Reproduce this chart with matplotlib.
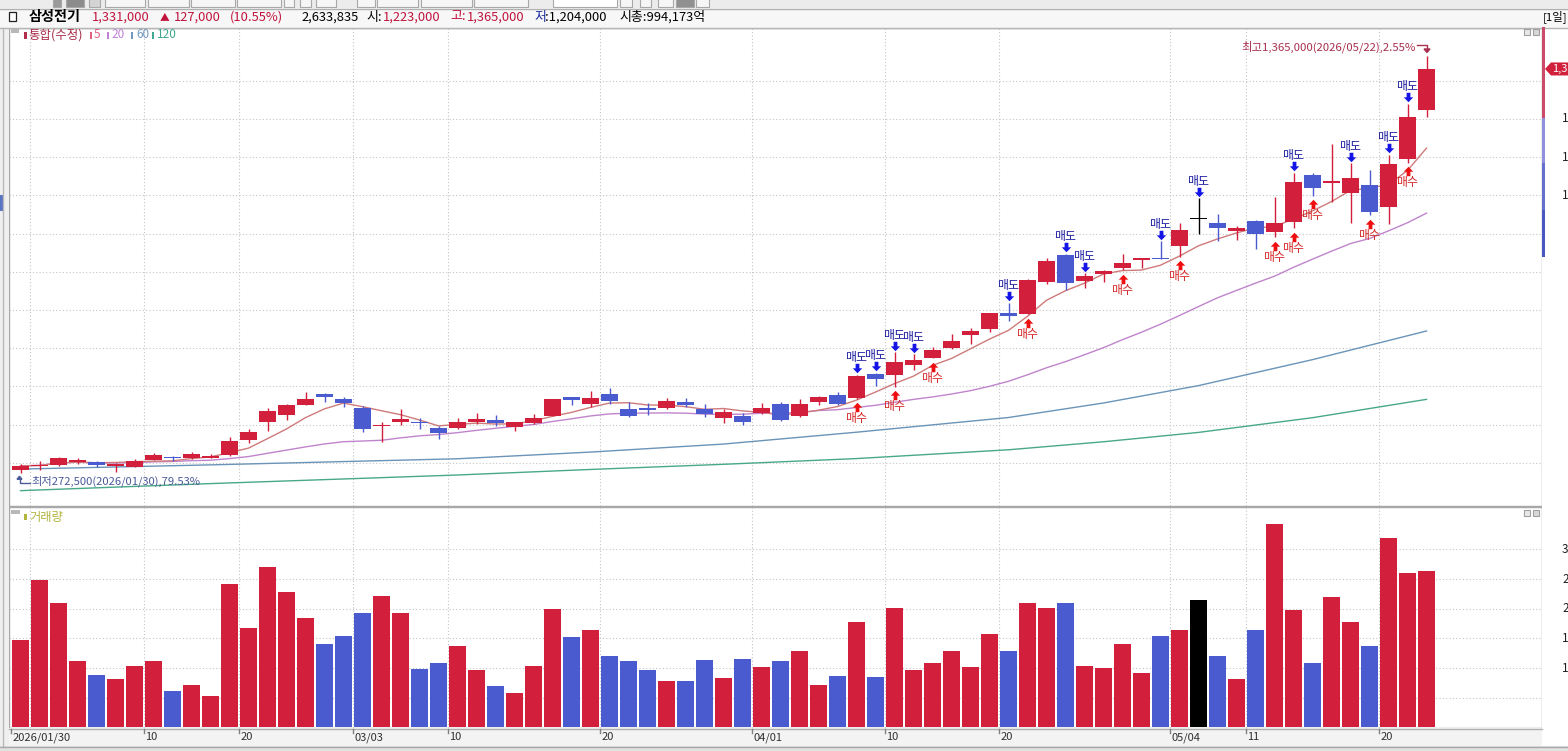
import numpy as np
import pandas as pd
import matplotlib
matplotlib.use('Agg')
import matplotlib.pyplot as plt
from matplotlib.patches import Rectangle, Polygon
from matplotlib.lines import Line2D
from matplotlib.path import Path
from matplotlib import transforms

plt.rcParams['font.family'] = ['Noto Sans CJK KR', 'DejaVu Sans']

# ---------------- data ----------------
opens = [282000, 291000, 294000, 301000, 302000, 291500, 289500, 308000, 315000, 313500,
         313500, 319500, 359500, 406500, 424500, 451500, 481000, 467000, 442500, 395000,
         406500, 406000, 392000, 392000, 406500, 411000, 393500, 403500, 422500, 472000,
         453000, 479500, 440000, 442500, 442500, 459000, 441500, 417000, 423500, 429500,
         454500, 423500, 458500, 476500, 469000, 532500, 530000, 555000, 575000, 601500,
         635500, 649500, 691500, 690500, 772500, 844000, 776500, 793500, 809000, 831000,
         837000, 867500, 938000, 927000, 907500, 934000, 905000, 930000, 1052500, 1033000,
         1007000, 1027000, 970500, 1095500, 1223000]
closes = [292000, 294000, 312500, 307500, 294000, 296000, 304000, 319500, 311500, 324000,
          318500, 358000, 380000, 435500, 450500, 467000, 473000, 455500, 388500, 397000,
          415500, 403500, 378500, 407500, 414000, 403500, 406000, 418000, 467000, 465000,
          469000, 462500, 422500, 438000, 461500, 450500, 427500, 433000, 406000, 444000,
          413000, 454000, 471500, 454000, 528000, 518500, 564500, 569000, 594500, 619000,
          645000, 691500, 683500, 778500, 829000, 770000, 790000, 803000, 824000, 835500,
          833500, 909500, 938000, 913500, 914500, 899000, 928500, 1035000, 1019500, 1037500,
          1045000, 956500, 1083000, 1204000, 1331000]
highs = [298000, 305000, 316000, 312000, 305000, 300000, 309000, 326500, 317500, 327500,
         324000, 367500, 389000, 442500, 454500, 486000, 482000, 473000, 449500, 407500,
         440000, 418000, 397000, 418000, 430500, 425000, 407500, 427500, 467500, 473000,
         488500, 496000, 458500, 456500, 469000, 469000, 453000, 441000, 429500, 455500,
         460000, 467000, 475500, 486000, 530000, 536000, 589000, 584000, 603000, 636500,
         652000, 693000, 718500, 781000, 837000, 847500, 796000, 804500, 846000, 835500,
         880500, 927000, 992500, 952000, 921000, 935500, 996500, 1059500, 1059500, 1134500,
         1084000, 1066500, 1106000, 1239500, 1365000]
lows = [272500, 281000, 292000, 296000, 290000, 276500, 289000, 306500, 304500, 310500,
        311500, 317500, 352000, 383000, 412000, 450500, 460000, 446000, 381500, 355000,
        398000, 388500, 361500, 388500, 401500, 397000, 383000, 400500, 422500, 450500,
        445000, 454500, 419000, 424500, 440000, 447000, 420000, 403500, 398000, 427000,
        409500, 420500, 451500, 451500, 467000, 502000, 499000, 542000, 573500, 598000,
        611500, 641500, 671000, 688500, 768000, 752500, 757000, 774000, 804500, 809000,
        832500, 839500, 899000, 880000, 883000, 859000, 890500, 914000, 998500, 983500,
        927000, 948500, 925000, 1085500, 1204000]
volumes = [1470000, 2480000, 2100000, 1120000, 890000, 810000, 1030000, 1110000, 610000, 720000,
           530000, 2420000, 1680000, 2710000, 2290000, 1840000, 1400000, 1540000, 1930000, 2210000,
           1930000, 980000, 1090000, 1370000, 960000, 690000, 570000, 1030000, 1990000, 1520000,
           1640000, 1200000, 1110000, 970000, 780000, 780000, 1140000, 830000, 1150000, 1010000,
           1110000, 1290000, 710000, 870000, 1780000, 840000, 2010000, 960000, 1080000, 1280000,
           1010000, 1570000, 1280000, 2100000, 2010000, 2090000, 1030000, 1000000, 1400000, 920000,
           1540000, 1640000, 2150000, 1200000, 810000, 1640000, 3430000, 1970000, 1090000, 2200000,
           1780000, 1370000, 3200000, 2610000, 2633835]

ma60_idx = [0, 10, 23, 30, 37, 44, 52, 57, 62, 68, 74]
ma60_val = [283500, 294500, 310500, 328000, 349000, 380000, 418500, 456500, 502000, 570000, 645000]
ma120_idx = [0, 10, 23, 30, 37, 44, 52, 57, 62, 68, 74]
ma120_val = [227000, 245500, 268000, 282500, 296000, 311000, 334000, 355000, 379500, 418000, 466000]

tick_idx = [0, 7, 12, 18, 23, 31, 39, 46, 52, 61, 65, 72]
tick_labels = ['2026/01/30', '10', '20', '03/03', '10', '20', '04/01', '10', '20', '05/04', '11', '20']
vgrid_idx = [1, 7, 12, 18, 23, 31, 39, 46, 52, 61, 65, 72]

sell_idx = [44, 45, 46, 47, 52, 55, 56, 60, 62, 67, 70, 72, 73]
buy_idx = [44, 46, 48, 53, 58, 61, 66, 67, 68, 71, 73]

price_grid = [300000, 400000, 500000, 600000, 700000, 800000, 900000, 1000000, 1100000, 1200000, 1300000]
# right-axis labels visible in the (cropped) reference: only their first characters show
price_label_vals = [1000000, 1100000, 1200000]
vol_grid = [500000, 1000000, 1500000, 2000000, 2500000, 3000000]
vol_label_vals = [1000000, 1500000, 2000000, 2500000, 3000000]

RED = '#d21f3c'
BLUE = '#4a5bd0'
C_MA5 = '#cf7a7a'
C_MA20 = '#c084cc'
C_MA60 = '#6a94b8'
C_MA120 = '#48a88a'

# ---------------- figure ----------------
W, H = 1568, 751
fig = plt.figure(figsize=(W / 100, H / 100), dpi=100)
fig.patch.set_facecolor('white')


def px_rect(x0, y0, x1, y1, fc, ec='none', lw=0, z=1):
    fig.add_artist(Rectangle((x0 / W, 1 - y1 / H), (x1 - x0) / W, (y1 - y0) / H,
                             transform=fig.transFigure, facecolor=fc, edgecolor=ec,
                             linewidth=lw, zorder=z))


def px_line(xs, ys, color, lw=1, z=2, ls='-'):
    fig.add_artist(Line2D([x / W for x in xs], [1 - y / H for y in ys],
                          transform=fig.transFigure, color=color, linewidth=lw,
                          zorder=z, linestyle=ls))


def px_text(x, y, s, color='black', size=8, ha='left', va='center', weight='normal', z=5):
    fig.text(x / W, 1 - y / H, s, color=color, fontsize=size, ha=ha, va=va,
             fontweight=weight, zorder=z)


# toolbar strip
px_rect(0, 0, W, 8, '#ececec', z=0.5)
for (a, b, cc) in [(53, 61, '#9a9a9a'), (66, 84, '#8c8c8c'), (89, 100, '#d4d4d4'),
                   (105, 145, '#f6f6f6'), (148, 189, '#f6f6f6'), (191, 235, '#f6f6f6'),
                   (237, 281, '#f6f6f6'), (284, 294, '#f6f6f6'), (300, 311, '#f6f6f6'),
                   (316, 336, '#f6f6f6'), (357, 375, '#f6f6f6'), (377, 418, '#f6f6f6'),
                   (421, 472, '#f6f6f6'), (474, 528, '#f6f6f6'), (553, 617, '#ffffff'),
                   (620, 632, '#f6f6f6'), (640, 651, '#f6f6f6'), (658, 673, '#f6f6f6'),
                   (676, 694, '#909090'), (696, 709, '#f6f6f6')]:
    px_rect(a, -2, b, 6.5, cc, ec='#a8a8a8', lw=0.8, z=0.6)
# header strip
px_rect(0, 8, W, 27.5, '#f7f7f7', z=0.5)
px_line([0, W], [8.5, 8.5], '#b0b0b0')
px_line([0, W], [27.5, 27.5], '#b4b4b4')
# left strip
px_rect(0, 27.5, 9, 746, '#efefef', z=0.5)
px_line([3, 3], [27.5, 746], '#b8b8b8')
px_rect(0, 195, 3, 211, '#5a74c4', z=1)
# right strip
px_rect(1542, 27.5, W, 746, '#ffffff', z=0.5)
# bottom date strip
px_rect(9, 728, 1542, 746, '#f3f3f3', z=0.5)
px_rect(0, 746, W, H, '#e2e2e2', z=0.5)
px_line([0, W], [746.5, 746.5], '#a8a8a8')
px_line([9, 1542], [728.5, 728.5], '#b0b0b0')

# header texts
px_rect(9, 12, 16, 21, 'white', ec='#202020', lw=0.9, z=3)
px_text(29, 17, '삼성전기', 'black', 10.2, weight='bold')
px_text(92, 17, '1,331,000', '#c0143c', 9.3)
px_text(160, 17, '▲', '#c0143c', 7)
px_text(174, 17, '127,000', '#c0143c', 9.3)
px_text(230, 17, '(10.55%)', '#c0143c', 9.3)
px_text(301, 17, '2,633,835', 'black', 9.3)
px_text(366, 17, '시:', 'black', 9.3)
px_text(383, 17, '1,223,000', '#c0143c', 9.3)
px_text(450, 17, '고:', '#c0143c', 9.3)
px_text(467, 17, '1,365,000', '#c0143c', 9.3)
px_text(534, 17, '저', '#2030a0', 9.3)
px_text(545, 17, ':1,204,000', 'black', 9.3)
px_text(619, 17, '시총:994,173억', 'black', 9.3)
px_text(1567, 17, '[1일]', 'black', 8.2, ha='right')

# ---------------- price panel ----------------
X0, X1 = 9, 1542
XMIN = (X0 - 20.5) / 19.0
XMAX = (X1 - 20.5) / 19.0
ax = fig.add_axes([X0 / W, 1 - 506 / H, (X1 - X0) / W, (506 - 28) / H])
ax.set_xlim(XMIN, XMAX)
ax.set_ylim(186834, 1438238)
axv = fig.add_axes([X0 / W, 1 - 728 / H, (X1 - X0) / W, (728 - 507) / H])
axv.set_xlim(XMIN, XMAX)
axv.set_ylim(-11800, 3715000)

for a in (ax, axv):
    a.set_facecolor('white')
    for s in a.spines.values():
        s.set_color('#a8a8a8')
        s.set_linewidth(1)
    a.set_xticks([])
    a.tick_params(axis='y', which='both', left=False, labelleft=False, right=True,
                  labelright=False, direction='out', color='#9a9a9a')
    for gi in vgrid_idx:
        a.axvline(gi - 0.5, color='#c4c4c4', lw=0.8, ls=(0, (1, 2)), zorder=0.5)

ax.set_yticks(price_grid)
ax.tick_params(axis='y', length=4)
for g in price_grid:
    ax.axhline(g, color='#c4c4c4', lw=0.8, ls=(0, (1, 2)), zorder=0.5)

axv.set_yticks(vol_grid)
axv.set_yticks(np.arange(100000, 3700000, 100000), minor=True)
axv.tick_params(axis='y', which='major', length=5)
axv.tick_params(axis='y', which='minor', length=2.5)
for g in vol_grid:
    axv.axhline(g, color='#c4c4c4', lw=0.8, ls=(0, (1, 2)), zorder=0.5)

idx = np.arange(len(closes))
o = np.array(opens, float)
c = np.array(closes, float)
hh = np.array(highs, float)
ll = np.array(lows, float)
cols = [RED if c[i] > o[i] else (BLUE if c[i] < o[i] else '#000000') for i in idx]

# moving averages
ma5 = pd.Series(c).rolling(5, min_periods=1).mean()
ma20 = pd.Series(c).rolling(20, min_periods=1).mean()
ax.plot(ma120_idx, ma120_val, color=C_MA120, lw=1, zorder=1)
ax.plot(ma60_idx, ma60_val, color=C_MA60, lw=1, zorder=1)
ax.plot(idx, ma20, color=C_MA20, lw=1, zorder=1.2)
ax.plot(idx, ma5, color=C_MA5, lw=1, zorder=1.4)

# candles
ax.vlines(idx, ll, hh, colors=cols, linewidth=1, zorder=2.5)
body_b = np.minimum(o, c)
body_h = np.maximum(np.abs(c - o), 2700)
ax.bar(idx, body_h, bottom=body_b, width=0.89, color=cols, linewidth=0, zorder=3)

# buy / sell signals
down_verts = [(-0.2, 0.5), (0.2, 0.5), (0.2, 0.02), (0.5, 0.02), (0, -0.5),
              (-0.5, 0.02), (-0.2, 0.02), (-0.2, 0.5)]
up_verts = [(x, -y) for x, y in down_verts]
down_path = Path(down_verts)
up_path = Path(up_verts)
t_sell_arrow = transforms.offset_copy(ax.transData, fig=fig, x=0, y=6.5, units='dots')
t_sell_text = transforms.offset_copy(ax.transData, fig=fig, x=0, y=17, units='dots')
t_buy_arrow = transforms.offset_copy(ax.transData, fig=fig, x=0, y=-8.5, units='dots')
t_buy_text = transforms.offset_copy(ax.transData, fig=fig, x=0, y=-20, units='dots')
for i in sell_idx:
    ax.plot([i], [hh[i]], marker=down_path, markersize=6.8, color='#1414e6',
            markeredgewidth=0, linestyle='none', transform=t_sell_arrow, zorder=5)
    ax.text(i, hh[i], '매도', transform=t_sell_text, ha='center', va='center',
            fontsize=8.6, color='#1c1ca0', zorder=6)
for i in buy_idx:
    ax.plot([i], [ll[i]], marker=up_path, markersize=6.8, color='#ee1010',
            markeredgewidth=0, linestyle='none', transform=t_buy_arrow, zorder=5)
    ax.text(i, ll[i], '매수', transform=t_buy_text, ha='center', va='center',
            fontsize=8.6, color='#d42828', zorder=6)

# max / min annotations
fig.canvas.draw()
imax = int(np.argmax(hh))
imin = int(np.argmin(ll))
mx, my = ax.transData.transform((imax, hh[imax]))
nx, ny = ax.transData.transform((imin, ll[imin]))
ident = transforms.IdentityTransform()
cur = c[-1]
pct_hi = (hh[imax] - cur) / cur * 100
pct_lo = (cur - ll[imin]) / cur * 100
fig.text(mx - 11, my + 9, '최고{:,.0f}(2026/05/22),{:.2f}%'.format(hh[imax], pct_hi),
         transform=ident, ha='right', va='center', fontsize=8.2, color='#a83050', zorder=6)
fig.add_artist(Line2D([mx - 10, mx + 0.5, mx + 0.5], [my + 10.5, my + 10.5, my + 6],
                      transform=ident, color='#a83050', lw=1, zorder=6))
fig.add_artist(Polygon([(mx - 2.5, my + 7), (mx + 3.5, my + 7), (mx + 0.5, my + 3.5)],
                       closed=True, transform=ident, color='#a83050', zorder=6))
fig.text(nx + 11, ny - 8.2, '최저{:,.0f}(2026/01/30),{:.2f}%'.format(ll[imin], pct_lo),
         transform=ident, ha='left', va='center', fontsize=8.1, color='#4a5a9a', zorder=6)
fig.add_artist(Line2D([nx - 1, nx - 1, nx + 9.5], [ny - 5, ny - 10, ny - 10],
                      transform=ident, color='#4a5a9a', lw=1, zorder=6))
fig.add_artist(Polygon([(nx - 3.5, ny - 6), (nx + 1.5, ny - 6), (nx - 1, ny - 3)],
                       closed=True, transform=ident, color='#4a5a9a', zorder=6))

# ---------------- volume ----------------
axv.bar(idx, volumes, width=0.945, color=cols, linewidth=0, zorder=3)

# ---------------- legends / icons ----------------
px_rect(11, 28.5, 19, 33, '#b8b8b8', z=4)
px_rect(24, 31.5, 26.5, 38.5, '#b0304c', z=4)
px_text(28, 35, '통합(수정)', '#a8304c', 9)
px_rect(90, 31.5, 92, 38.5, '#e06080', z=4)
px_text(94, 35, '5', '#e06080', 8.5)
px_rect(107, 31.5, 109, 38.5, '#c080d8', z=4)
px_text(111, 35, '20', '#c080d8', 8.5)
px_rect(131, 31.5, 133, 38.5, '#7098c0', z=4)
px_text(136, 35, '60', '#7098c0', 8.5)
px_rect(152, 31.5, 154, 38.5, '#40a890', z=4)
px_text(157, 35, '120', '#40a890', 8.5)

px_rect(11, 509.5, 19.5, 513.5, '#b8b8b8', z=4)
px_rect(24, 514, 26.5, 520, '#b4b440', z=4)
px_text(29, 517, '거래량', '#b4b440', 8.8)

for yy in (29, 510):
    px_rect(1524, yy, 1530, yy + 6, '#e8e8e8', ec='#a0a0a0', lw=0.8, z=4)
    px_rect(1533, yy, 1539, yy + 6, '#d8d8d8', ec='#a0a0a0', lw=0.8, z=4)

# ---------------- right axis decorations ----------------
px_rect(1542, 27.5, 1545, 118, '#cc4a6a', z=3)
px_rect(1542, 118, 1545, 163, '#9090dc', z=3)
px_rect(1542, 163, 1545, 210, '#6470cc', z=3)
px_rect(1542, 210, 1545, 257, '#4858c0', z=3)

# axis labels are cropped by the window edge in the reference: only the first character shows
trans_pr = transforms.blended_transform_factory(fig.transFigure, ax.transData)
for v in price_label_vals:
    fig.text(1562 / W, v, '{:,}'.format(v)[:1], transform=trans_pr, ha='left', va='center',
             fontsize=8.5, color='#202020', zorder=5)
trans_vr = transforms.blended_transform_factory(fig.transFigure, axv.transData)
for v in vol_label_vals:
    fig.text(1562 / W, v, '{:,}'.format(v)[:1], transform=trans_vr, ha='left', va='center',
             fontsize=8.5, color='#202020', zorder=5)

# current price tag (cropped at the edge in the reference)
cx, cy = ax.transData.transform((0, c[-1]))
fig.add_artist(Polygon([(1545, cy), (1551, cy + 6.5), (W + 2, cy + 6.5), (W + 2, cy - 6.5),
                        (1551, cy - 6.5)], closed=True, transform=ident,
                       facecolor='#d0203c', edgecolor='none', zorder=6))
fig.text(1552, cy, '{:,}'.format(int(c[-1]))[:3], transform=ident, ha='left', va='center',
         fontsize=8, color='white', zorder=7)

# ---------------- date labels ----------------
trans_dx = transforms.blended_transform_factory(axv.transData, fig.transFigure)
for ti, lab in zip(tick_idx, tick_labels):
    fig.add_artist(Line2D([ti - 0.5, ti - 0.5], [1 - 729 / H, 1 - 733 / H],
                          transform=trans_dx, color='#808080', lw=1, zorder=5))
    t_off = transforms.offset_copy(trans_dx, fig=fig, x=1.5, y=0, units='dots')
    fig.text(ti - 0.5, 1 - 737.5 / H, lab, transform=t_off, ha='left', va='center',
             fontsize=8, color='#303030', zorder=5)

fig.savefig('out.png', dpi=100)
